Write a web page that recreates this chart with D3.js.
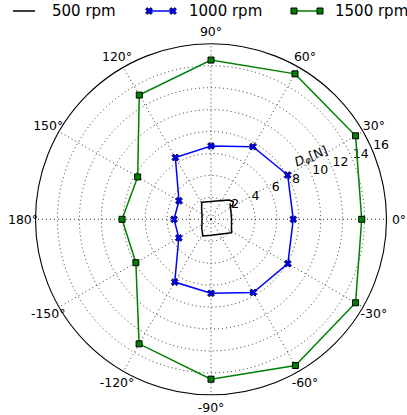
<!DOCTYPE html>
<html><head><meta charset="utf-8">
<script src="https://cdn.jsdelivr.net/npm/d3@7"></script>
<style>
body{margin:0;background:#fff}
svg{display:block;font-family:"DejaVu Sans",sans-serif}
</style>
</head><body>
<svg id="chart" width="407" height="415"></svg>
<script>
// Measured force per angular position, three spindle speeds
const angles = [0, 30, 60, 90, 120, 150, 180, 210, 240, 270, 300, 330];
const rpm1000 = [7.50, 8.07, 7.65, 6.68, 6.50, 3.37, 3.37, 3.39, 6.61, 6.75, 7.71, 8.09];
const rpm1500 = [13.74, 15.22, 15.31, 14.52, 13.08, 7.72, 8.11, 7.91, 13.11, 14.58, 15.39, 15.22];
// 500 rpm trace (continuous line, open ends)
const rpm500Angles = [40, 20, 0, -20, -33, -60, -90, -116, -135, -150, -180, 150, 135, 119, 90, 60, 46.5, 38, 32, 37];
const rpm500 = [2.26, 1.94, 1.87, 1.99, 2.24, 1.58, 1.46, 1.70, 1.19, 0.95, 0.82, 0.95, 1.20, 1.77, 1.63, 1.97, 2.42, 2.59, 2.30, 2.13];
const radialTicks = [2, 4, 6, 8, 10, 12, 14, 16];
const angleTicks = [0, 30, 60, 90, 120, 150, 180, 210, 240, 270, 300, 330];
const angleLabels = ["0°", "30°", "60°", "90°", "120°", "150°", "180°", "-150°", "-120°", "-90°", "-60°", "-30°"];
const seriesNames = ["500 rpm", "1000 rpm", "1500 rpm"];
const radialTitle = ["D", "φ", "[N]"];

const svg = d3.select("#chart");
const cx = 211, cy = 219.3, R = 175.5;
const r = d3.scaleLinear().domain([0, 16]).range([0, R]);
// math angle (deg, CCW from east) -> d3 radial angle (rad, CW from north)
const ang = d3.scaleLinear().domain([0, 360]).range([Math.PI / 2, Math.PI / 2 - 2 * Math.PI]);
const px = (a, v) => [r(v) * Math.sin(ang(a)), -r(v) * Math.cos(ang(a))];

const g = svg.append("g").attr("transform", `translate(${cx},${cy})`);

// dotted grid rings
g.selectAll("circle.ring").data(radialTicks.filter(d => d < 16)).join("circle")
  .attr("r", d => r(d)).attr("fill", "none")
  .attr("stroke", "#000").attr("stroke-width", 0.8).attr("stroke-dasharray", "1,3");

// dotted spokes
g.selectAll("line.spoke").data(angleTicks).join("line")
  .attr("x1", 0).attr("y1", 0)
  .attr("x2", d => px(d, 16)[0]).attr("y2", d => px(d, 16)[1])
  .attr("stroke", "#000").attr("stroke-width", 0.8).attr("stroke-dasharray", "1,3");

// outer frame
g.append("circle").attr("r", r(16)).attr("fill", "none").attr("stroke", "#000").attr("stroke-width", 1.1);

// angle labels
g.selectAll("text.ang").data(angleTicks).join("text")
  .attr("x", (d) => (R + 12.5) * Math.sin(ang(d)))
  .attr("y", (d) => -(R + 12.5) * Math.cos(ang(d)))
  .attr("text-anchor", "middle").attr("dominant-baseline", "central")
  .attr("font-size", 12.5)
  .text((d, i) => angleLabels[i]);

// radial tick labels along 22.5°
g.selectAll("text.rad").data(radialTicks).join("text")
  .attr("x", d => px(22.5, d)[0])
  .attr("y", d => px(22.5, d)[1] - 3)
  .attr("font-size", 12.5)
  .text(d => d);

// radial axis title
const tp = px(32.6, 10.8);
const title = g.append("text")
  .attr("transform", `translate(${tp[0]},${tp[1]}) rotate(-22.5)`)
  .attr("text-anchor", "middle").attr("dominant-baseline", "central")
  .attr("font-size", 12.5);
title.append("tspan").attr("font-style", "italic").text(radialTitle[0]);
title.append("tspan").attr("font-size", 8.5).attr("font-style", "italic").attr("dy", 3).text(radialTitle[1]);
title.append("tspan").attr("dy", -3).text(radialTitle[2]);

const closedLine = d3.lineRadial().angle(d => ang(d[0])).radius(d => r(d[1])).curve(d3.curveLinearClosed);
const openLine = d3.lineRadial().angle(d => ang(d[0])).radius(d => r(d[1])).curve(d3.curveLinear);

// 500 rpm
g.append("path").attr("d", openLine(rpm500Angles.map((a, i) => [a, rpm500[i]])))
  .attr("fill", "none").attr("stroke", "#000").attr("stroke-width", 1.5).attr("stroke-linejoin", "round");

const xSym = d3.symbol().type(d3.symbolCross).size(30);
const sqSym = d3.symbol().type(d3.symbolSquare).size(36);

// 1000 rpm
const d1000 = angles.map((a, i) => [a, rpm1000[i]]);
g.append("path").attr("d", closedLine(d1000))
  .attr("fill", "none").attr("stroke", "#0000ff").attr("stroke-width", 1.5);
g.selectAll("path.m1000").data(d1000).join("path")
  .attr("d", xSym())
  .attr("transform", d => `translate(${px(d[0], d[1])}) rotate(45)`)
  .attr("fill", "#0000ff").attr("stroke", "#000033").attr("stroke-width", 0.8);

// 1500 rpm
const d1500 = angles.map((a, i) => [a, rpm1500[i]]);
g.append("path").attr("d", closedLine(d1500))
  .attr("fill", "none").attr("stroke", "#008000").attr("stroke-width", 1.5);
g.selectAll("path.m1500").data(d1500).join("path")
  .attr("d", sqSym())
  .attr("transform", d => `translate(${px(d[0], d[1])})`)
  .attr("fill", "#008000").attr("stroke", "#000").attr("stroke-width", 1);

// legend
const legend = svg.append("g").attr("font-size", 15);
const legendItems = [
  {x0: 13, x1: 35, tx: 52, color: "#000", sym: null},
  {x0: 149, x1: 173, tx: 189, color: "#0000ff", sym: "x"},
  {x0: 294, x1: 320, tx: 335, color: "#008000", sym: "sq"}
];
legendItems.forEach((it, i) => {
  const ly = 11;
  legend.append("line").attr("x1", it.x0).attr("x2", it.x1).attr("y1", ly).attr("y2", ly)
    .attr("stroke", it.color).attr("stroke-width", 1.5);
  [it.x0, it.x1].forEach(x => {
    if (it.sym === "x") {
      legend.append("path").attr("d", xSym()).attr("transform", `translate(${x},${ly}) rotate(45)`)
        .attr("fill", "#0000ff").attr("stroke", "#000033").attr("stroke-width", 0.8);
    } else if (it.sym === "sq") {
      legend.append("path").attr("d", sqSym()).attr("transform", `translate(${x},${ly})`)
        .attr("fill", "#008000").attr("stroke", "#000").attr("stroke-width", 1);
    }
  });
  legend.append("text").attr("x", it.tx).attr("y", ly).attr("dominant-baseline", "central")
    .text(seriesNames[i]);
});
</script>
</body></html>
